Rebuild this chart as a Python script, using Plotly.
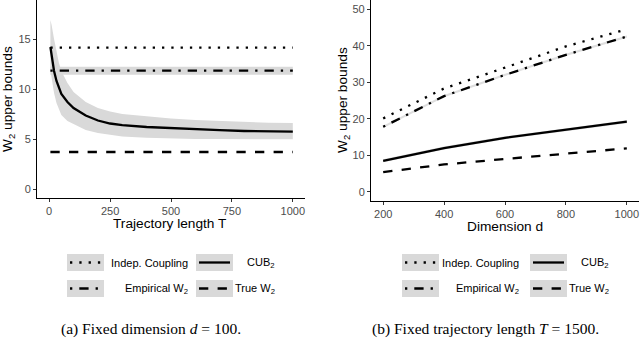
import plotly.graph_objects as go

# painel (a): d fixo = 100, variando T
T = [5, 10, 20, 30, 40, 50, 75, 100, 150, 200, 250, 300, 400, 500, 600, 700, 800, 900, 1000]
cub_a = [14.2, 13.2, 11.8, 10.8, 10.1, 9.5, 8.7, 8.1, 7.35, 6.85, 6.55, 6.38, 6.2, 6.08, 5.97, 5.88, 5.8, 5.75, 5.73]
cub_a_lo = [11.9, 11.0, 9.6, 8.6, 7.9, 7.4, 6.8, 6.5, 5.9, 5.6, 5.4, 5.25, 5.12, 5.05, 5.0, 5.0, 5.0, 4.98, 4.97]
cub_a_hi = [16.9, 16.4, 15.0, 13.6, 12.6, 11.8, 10.6, 9.7, 8.7, 8.1, 7.75, 7.5, 7.25, 7.05, 6.9, 6.8, 6.7, 6.62, 6.6]
T_flat = [5, 1000]
indep_a = [14.13, 14.13]
emp_a = [11.83, 11.83]
emp_a_lo = [11.43, 11.43]
emp_a_hi = [12.23, 12.23]
true_a = [3.7, 3.7]

# painel (b): T fixo = 1500, variando d
d = [200, 400, 600, 800, 1000]
indep_b = [20.1, 28.3, 34.0, 39.8, 44.5]
emp_b = [17.8, 26.2, 32.0, 37.5, 42.5]
cub_b = [8.5, 12.0, 14.8, 17.0, 19.2]
true_b = [5.4, 7.5, 9.0, 10.5, 11.9]

W, H = 640, 357
BAND = '#D9D9D9'
LW = 2.3
DASH = {'dot': '2.3px,7px', 'dotdash': '2.3px,7px,9.3px,7px', 'dashed': '9.3px,9.3px', 'solid': 'solid'}

fig = go.Figure()

def band(x, lo, hi, xa, ya, color=BAND):
    fig.add_trace(go.Scatter(x=x, y=hi, mode='lines', line=dict(width=0), xaxis=xa, yaxis=ya,
                             showlegend=False, hoverinfo='skip'))
    fig.add_trace(go.Scatter(x=x, y=lo, mode='lines', line=dict(width=0), fill='tonexty',
                             fillcolor=color, xaxis=xa, yaxis=ya, showlegend=False, hoverinfo='skip'))

def linha(x, y, dash, xa, ya):
    fig.add_trace(go.Scatter(x=x, y=y, mode='lines', line=dict(color='black', width=LW, dash=DASH[dash]),
                             xaxis=xa, yaxis=ya, showlegend=False))

# (a)
band(T, cub_a_lo, cub_a_hi, 'x', 'y')
band(T_flat, emp_a_lo, emp_a_hi, 'x', 'y')
linha(T_flat, indep_a, 'dot', 'x', 'y')
linha(T_flat, emp_a, 'dotdash', 'x', 'y')
linha(T, cub_a, 'solid', 'x', 'y')
linha(T_flat, true_a, 'dashed', 'x', 'y')

# (b) faixas bem finas
band(d, [v - 0.4 for v in cub_b], [v + 0.4 for v in cub_b], 'x2', 'y2', 'rgba(190,190,190,0.6)')
band(d, [v - 0.3 for v in emp_b], [v + 0.3 for v in emp_b], 'x2', 'y2', 'rgba(200,200,200,0.6)')
linha(d, indep_b, 'dot', 'x2', 'y2')
linha(d, emp_b, 'dotdash', 'x2', 'y2')
linha(d, cub_b, 'solid', 'x2', 'y2')
linha(d, true_b, 'dashed', 'x2', 'y2')

def px(v):
    return v / W

def py(v):
    return 1 - v / H

eixo = dict(showline=True, linecolor='black', linewidth=1.1, showgrid=False, zeroline=False,
            ticks='outside', ticklen=3, tickcolor='#333333', tickwidth=1,
            tickfont=dict(family='Liberation Sans', size=11, color='#4D4D4D'))

fig.update_layout(
    template='none',
    width=W, height=H, margin=dict(l=0, r=0, t=0, b=0),
    plot_bgcolor='white', paper_bgcolor='white',
    xaxis=dict(eixo, domain=[px(37), px(305)], range=[-50, 1050], tickvals=[0, 250, 500, 750, 1000], anchor='y'),
    yaxis=dict(eixo, domain=[py(198), 1], range=[-0.9, 18.9], tickvals=[0, 5, 10, 15], anchor='x'),
    xaxis2=dict(eixo, domain=[px(371), px(639)], range=[160, 1040], tickvals=[200, 400, 600, 800, 1000], anchor='y2'),
    yaxis2=dict(eixo, domain=[py(201), 1], range=[-2.5, 52.5], tickvals=[0, 10, 20, 30, 40, 50], anchor='x2'),
)

anns = []
tfont = dict(family='Liberation Sans', size=13.7, color='black')
anns.append(dict(text='Trajectory length T', x=px(170), y=py(223), font=tfont))
anns.append(dict(text='Dimension d', x=px(505), y=py(226), font=tfont))
anns.append(dict(text='W<sub>2</sub> upper bounds', x=px(8), y=py(99), textangle=-90, font=tfont))
anns.append(dict(text='W<sub>2</sub> upper bounds', x=px(343), y=py(100), textangle=-90, font=tfont))

cfont = dict(family='Liberation Serif', size=15.5, color='black')
anns.append(dict(text='(a) Fixed dimension <i>d</i> = 100.', x=px(151), y=py(329), font=cfont))
anns.append(dict(text='(b) Fixed trajectory length <i>T</i> = 1500.', x=px(485), y=py(329), font=cfont))

# legenda desenhada à mão (caixas cinza estilo ggplot)
shapes = []
lfont = dict(family='Liberation Sans', size=11, color='black')
rows = [(254, 271), (280, 297)]
legendas = [
    # (x da caixa col1, fim do texto col1, x da caixa col2, fim do texto col2)
    (67, 190, 196, 277),
    (402, 521, 530, 611),
]
itens = [
    [('dot', 'Indep. Coupling'), ('solid', 'CUB<sub>2</sub>')],
    [('dotdash', 'Empirical W<sub>2</sub>'), ('dashed', 'True W<sub>2</sub>')],
]
for x1, t1, x2, t2 in legendas:
    for r, (y0, y1) in enumerate(rows):
        for c, (bx, tx) in enumerate([(x1, t1), (x2, t2)]):
            dash, label = itens[r][c]
            shapes.append(dict(type='rect', xref='paper', yref='paper', x0=px(bx), x1=px(bx + 37),
                               y0=py(y1), y1=py(y0), fillcolor=BAND, line=dict(width=0), layer='below'))
            ym = py((y0 + y1) / 2)
            shapes.append(dict(type='line', xref='paper', yref='paper', x0=px(bx + 3), x1=px(bx + 34),
                               y0=ym, y1=ym, line=dict(color='black', width=LW, dash=DASH[dash])))
            anns.append(dict(text=label, x=px(tx), y=ym, xanchor='right', font=lfont))

for a in anns:
    a.setdefault('xref', 'paper')
    a.setdefault('yref', 'paper')
    a.setdefault('showarrow', False)
    a.setdefault('xanchor', 'center')
    a.setdefault('yanchor', 'middle')

fig.update_layout(annotations=anns, shapes=shapes)

# tira a margem padrão do <body> para a figura ocupar a janela inteira
fig.write_html("out.html", config={'displayModeBar': False},
               post_script="document.body.style.margin='0';document.body.style.overflow='hidden';")
